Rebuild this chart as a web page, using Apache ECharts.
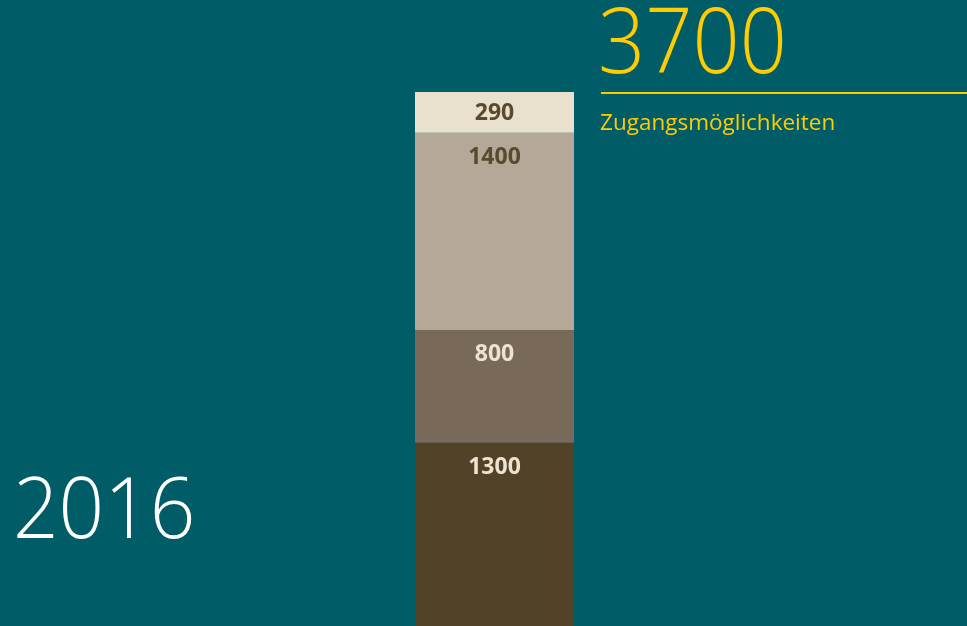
<!DOCTYPE html>
<html>
<head>
<meta charset="utf-8">
<script src="https://cdn.jsdelivr.net/npm/echarts@6/dist/echarts.min.js"></script>
<style>
  html, body { margin: 0; padding: 0; background: #005c66; }
  #chart { width: 967px; height: 626px; }
</style>
</head>
<body>
<div id="chart"></div>
<script>
// stacked segments, bottom to top
const segmentNames = ["a", "b", "c", "d"];
const segmentValues = [1300, 800, 1400, 290];
const segmentColors = ["#524228", "#796959", "#b5a898", "#e9e0ce"];
const labelColors = ["#ede3d0", "#ede3d0", "#5a4a30", "#5a4a30"];
const category = ["2016"];
const totalLabel = "3700";
const totalCaption = "Zugangsmöglichkeiten";
const yearLabel = "2016";

const total = segmentValues.reduce((s, v) => s + v, 0);

const chart = echarts.init(document.getElementById("chart"));

chart.setOption({
  backgroundColor: "#005c66",
  animation: false,
  grid: { left: 415, right: 393, top: 92, bottom: 0 },
  xAxis: { type: "category", data: category, show: false },
  yAxis: { type: "value", min: 0, max: total, show: false },
  series: segmentValues.map((v, i) => ({
    name: segmentNames[i],
    type: "bar",
    stack: "total",
    barWidth: "100%",
    data: [v],
    itemStyle: { color: segmentColors[i] },
    label: {
      show: true,
      position: "insideTop",
      distance: i === 3 ? 10 : 13,
      formatter: "{c}",
      color: labelColors[i],
      fontFamily: "Open Sans",
      fontWeight: "bold",
      fontSize: 23,
    },
  })),
  graphic: [
    {
      type: "text",
      left: 598, top: 2,
      scaleX: 0.92,
      style: { text: totalLabel, fill: "#ffcc00", font: "300 90px 'Open Sans'" },
    },
    {
      type: "line",
      shape: { x1: 601, y1: 93, x2: 967, y2: 93 },
      style: { stroke: "#ffcc00", lineWidth: 2 },
    },
    {
      type: "text",
      left: 600, top: 112,
      style: { text: totalCaption, fill: "#ffcc00", font: "22.5px 'Open Sans'" },
    },
    {
      type: "text",
      left: 13, top: 471,
      scaleX: 0.94,
      style: { text: yearLabel, fill: "#ffffff", font: "300 85px 'Open Sans'" },
    },
  ],
});
</script>
</body>
</html>
